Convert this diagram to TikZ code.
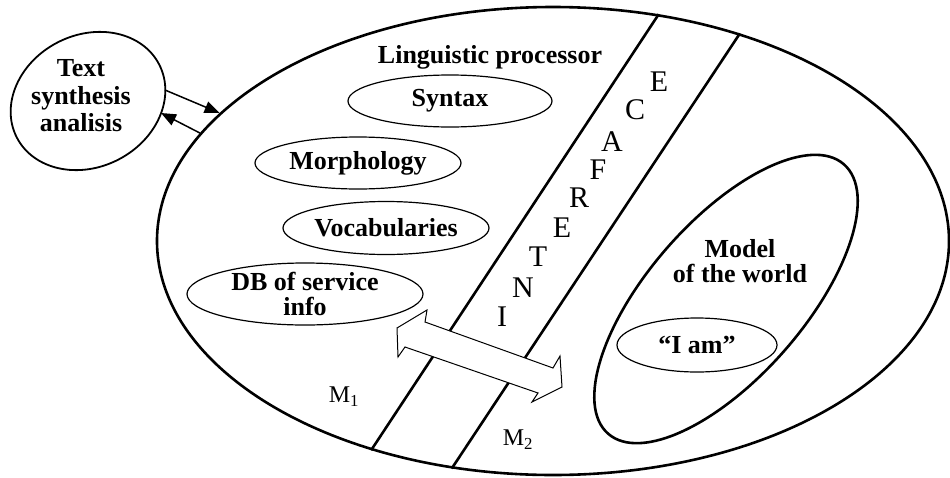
\documentclass[tikz,border=0pt]{standalone}
\usepackage{fontspec}
\setmainfont{Liberation Serif}
\usetikzlibrary{shapes.geometric,arrows.meta}
\begin{document}
\begin{tikzpicture}[x=1pt,y=-1pt,
  every node/.style={font=\fontsize{26}{25}\selectfont},
  blob/.style={draw, ellipse, line width=1.2pt, inner sep=0pt, align=center, font=\fontsize{26}{25}\selectfont\bfseries},
  rim/.style={line width=2.6pt},
  letter/.style={font=\fontsize{30}{30}\selectfont, inner sep=0pt},
  mlabel/.style={font=\fontsize{24}{24}\selectfont, inner sep=0pt},
  arr/.style={-{Triangle[length=15pt,width=12pt]}, line width=1.5pt}]
\useasboundingbox (0,0) rectangle (950,477);
\node[draw, ellipse, rim, minimum width=792pt, minimum height=468pt, inner sep=0pt] (outer) at (553,241) {};
\draw[rim] (outer.65.7) -- (outer.229.1);
\draw[rim] (outer.48.5) -- (outer.246.5);
\node[align=center, font=\fontsize{26}{27.5}\selectfont\bfseries] (txt) at (81,96) {Text\\synthesis\\analisis};
\draw[line width=1.8pt, rotate around={27:(88,101)}] (88,101) ellipse (80 and 66);
\coordinate (txtout) at (165,90);
\coordinate (txtin) at (161,113);
\draw[arr] (txtout) -- (outer.159.5);
\draw[arr] (outer.163.3) -- (txtin);
\node[font=\fontsize{26}{25}\selectfont\bfseries, anchor=base] (ling) at (490,63) {Linguistic processor};
\node[blob, minimum width=204pt, minimum height=52pt] (syn) at (450,101) {Syntax};
\node[blob, minimum width=206pt, minimum height=52pt] (mor) at (358,163) {Morphology};
\node[blob, minimum width=206pt, minimum height=53pt] (voc) at (386,228) {Vocabularies};
\node[blob, minimum width=236pt, minimum height=62pt] (db) at (305,294) {DB of service\\info};
\draw[rim, rotate around={48.8:(726,299)}] (726,299) ellipse (179 and 78);
\node[align=center, font=\fontsize{26}{25}\selectfont\bfseries] (model) at (740,261) {Model\\of the world};
\node[blob, minimum width=160pt, minimum height=54pt] (iam) at (697,345) {``I am''};
\draw[fill=white, line width=1pt] (427,310) -- (425,322) -- (553,368) -- (560,356) -- (562,387)
  -- (532,402) -- (538,393) -- (405,347) -- (398,357) -- (397,328) -- cycle;
\foreach [count=\k] \ch/\px/\py in {I/502/317, N/523/288, T/538/257, E/562/228, R/579/198,
  F/598/170, A/612/142, C/635/110, E/659/82}
  \node[letter] (let\k) at (\px,\py) {\ch};
\node[mlabel] (m1) at (344,397) {M\textsubscript{1}};
\node[mlabel] (m2) at (518,440) {M\textsubscript{2}};
\end{tikzpicture}
\end{document}
